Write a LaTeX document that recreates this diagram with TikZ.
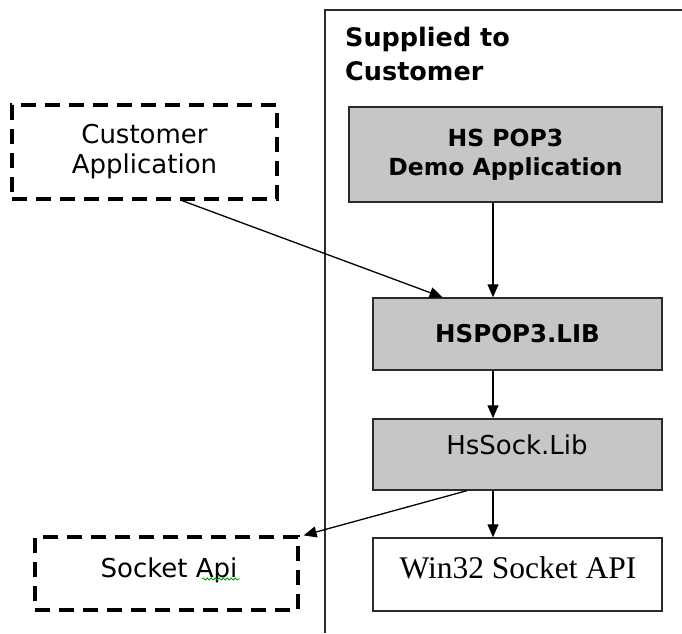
\documentclass[tikz,border=0pt]{standalone}
\usepackage{fontspec}
\newfontfamily\tah{DejaVu Sans}
\newfontfamily\tms{Liberation Serif}
\usetikzlibrary{arrows.meta,calc,decorations.pathmorphing}
\definecolor{boxgray}{HTML}{C6C6C6}
\definecolor{edge}{HTML}{2B2B2B}
\tikzset{
  graybox/.style={draw=edge, line width=1.5pt, fill=boxgray, rectangle, inner sep=0pt, align=center},
  whitebox/.style={draw=edge, line width=1.5pt, fill=white, rectangle, inner sep=0pt, align=center},
  dashbox/.style={draw=black, line width=3.2pt, dash pattern=on 15pt off 9pt, rectangle, inner sep=0pt, align=center},
  txt/.style={inner sep=0pt, align=center},
  arr/.style={draw=black, line width=1.3pt, -{Triangle[length=13pt,width=11pt]}},
  regfont/.style={font=\tah\fontsize{26}{30}\selectfont},
  boldfont/.style={font=\tah\bfseries\fontsize{23.5}{29}\selectfont},
}
\begin{document}
\begin{tikzpicture}[x=1pt,y=-1pt]
\useasboundingbox (0,0) rectangle (682,633);
% container frame
\draw[edge, line width=1.4pt] (325,633) -- (325,10) -- (682,10);
\node[txt, anchor=west, align=left, font=\tah\bfseries\fontsize{25.5}{34}\selectfont] (supp) at (345,54) {Supplied to\\Customer};

% boxes
\node[graybox, boldfont, minimum width=313pt, minimum height=95pt] (demo) at (505.5,154.5) {HS POP3\\Demo Application};
\node[graybox, font=\tah\bfseries\fontsize{24.5}{29}\selectfont, minimum width=289pt, minimum height=72pt] (lib) at (517.5,334) {HSPOP3.LIB};
\node[graybox, minimum width=289pt, minimum height=71pt] (sock) at (517.5,454.5) {};
\node[txt, regfont] (socktxt) at (517,445) {HsSock.Lib};
\node[whitebox, minimum width=289pt, minimum height=73pt] (win) at (517.5,574.5) {};
\node[txt, font=\tms\fontsize{31.5}{34}\selectfont] (wintxt) at (518,568) {Win32 Socket API};

\node[dashbox, regfont, minimum width=265pt, minimum height=94pt] (cust) at (144.5,152) {Customer\\Application};
\node[dashbox, minimum width=263pt, minimum height=73pt] (sapi) at (166.5,573.5) {};
\node[txt, regfont] (sapitxt) at (169,570) {Socket Api};
\draw[green!60!black, line width=0.8pt, decorate, decoration={snake, amplitude=1pt, segment length=4pt}] (202,579) -- (240,579);

% connectors
\coordinate (ax) at (493,0);
\draw[arr] ($(cust.south west)!0.64!(cust.south east)$) -- ($(lib.north west)!0.242!(lib.north east)$);
\draw[arr] (demo.south -| ax) -- (lib.north -| ax);
\draw[arr] (lib.south -| ax) -- (sock.north -| ax);
\draw[arr] (sock.south -| ax) -- (win.north -| ax);
\draw[arr] ($(sock.south west)!0.325!(sock.south east)$) -- ($(sapi.north east)+(4,0)$);
\end{tikzpicture}
\end{document}
